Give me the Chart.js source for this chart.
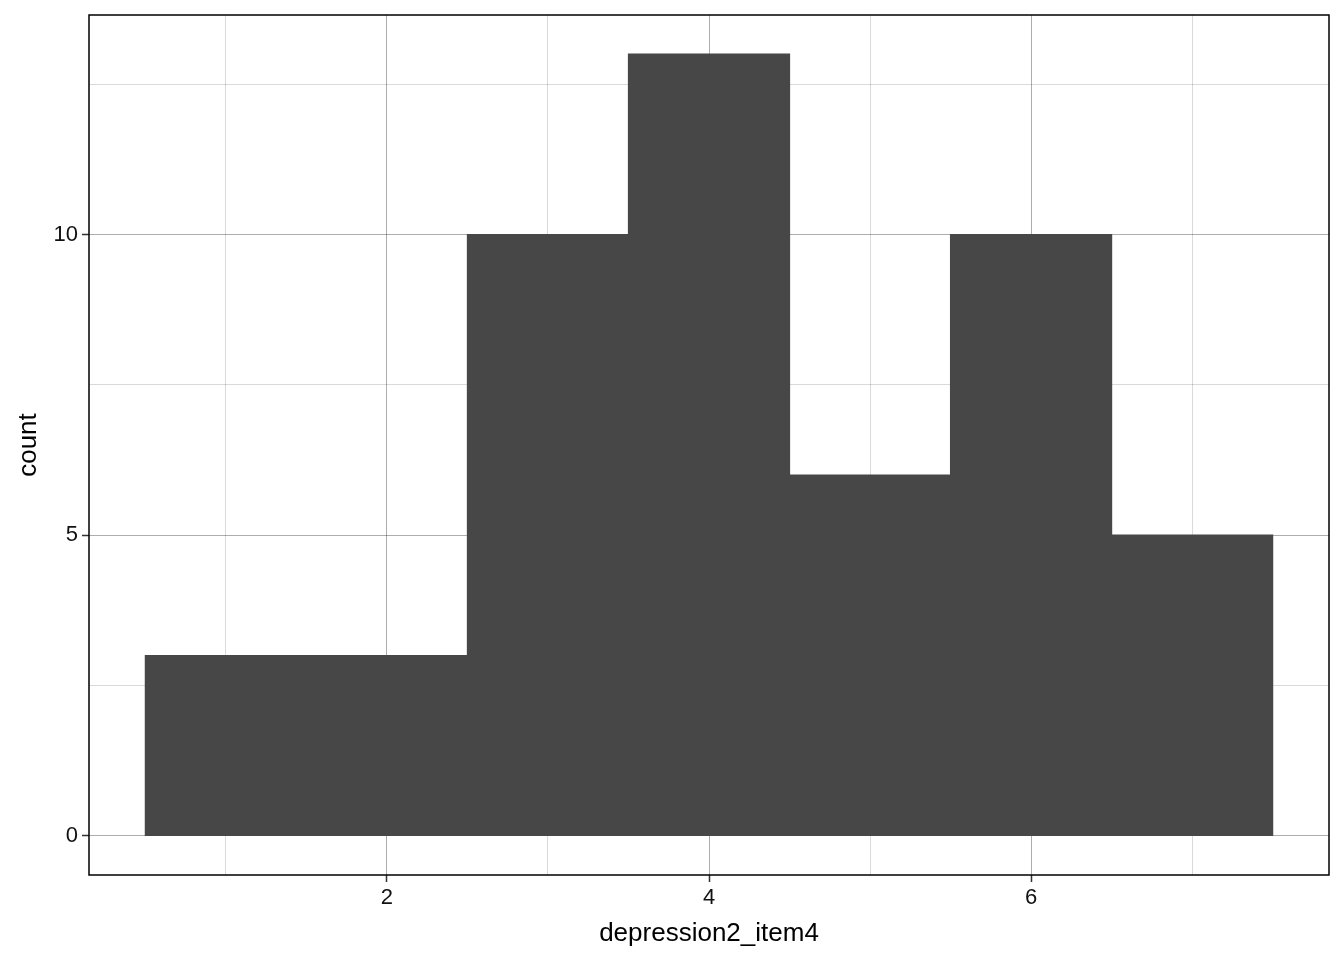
<!DOCTYPE html>
<html>
<head>
<meta charset="utf-8">
<script src="https://cdn.jsdelivr.net/npm/chart.js@4/dist/chart.umd.min.js"></script>
<style>
  html, body { margin: 0; padding: 0; background: #fff; }
  #wrap { width: 1344px; height: 960px; }
</style>
</head>
<body>
<div id="wrap"><canvas id="histChart"></canvas></div>
<script>
// bin centres (binwidth 1) and counts
var binCentres = [1, 2, 3, 4, 5, 6, 7];
var binCounts = [3, 3, 10, 13, 6, 10, 5];
var xTicks = [1, 2, 3, 4, 5, 6, 7];
var xLabelled = [2, 4, 6];
var yTicks = [0, 2.5, 5, 7.5, 10, 12.5];
var yLabelled = [0, 5, 10];

var FONT = "'Liberation Sans', Arial, sans-serif";

// panel border all round
var panelBorder = {
  id: 'panelBorder',
  afterDraw: function (chart) {
    var a = chart.chartArea, ctx = chart.ctx;
    ctx.save();
    ctx.strokeStyle = '#000';
    ctx.lineWidth = 1.5;
    ctx.strokeRect(a.left, a.top, a.right - a.left, a.bottom - a.top);
    ctx.restore();
  }
};

function gridCol(labelled) {
  return function (c) {
    if (!c.tick) return 'rgba(0,0,0,0)';
    return labelled.indexOf(c.tick.value) >= 0 ? 'rgba(0,0,0,0.32)' : 'rgba(0,0,0,0.15)';
  };
}
function tickCol(labelled) {
  return function (c) {
    if (!c.tick) return 'rgba(0,0,0,0)';
    return labelled.indexOf(c.tick.value) >= 0 ? '#333' : 'rgba(0,0,0,0)';
  };
}

new Chart("histChart", {
  type: "bar",
  data: {
    datasets: [{
      data: binCentres.map(function (x, i) { return { x: x, y: binCounts[i] }; }),
      backgroundColor: "#474747",
      borderWidth: 0,
      inflateAmount: 0.6,
      barPercentage: 1,
      categoryPercentage: 1
    }]
  },
  plugins: [panelBorder],
  options: {
    responsive: true,
    maintainAspectRatio: false,
    animation: false,
    layout: { padding: { left: 0, top: 15, right: 15, bottom: 0 } },
    plugins: {
      legend: { display: false },
      tooltip: { enabled: false }
    },
    scales: {
      x: {
        type: "linear",
        offset: false,
        min: 0.15,
        max: 7.85,
        afterBuildTicks: function (ax) { ax.ticks = xTicks.map(function (v) { return { value: v }; }); },
        afterFit: function (ax) { ax.height = 85; ax.paddingLeft = 0; ax.paddingRight = 0; },
        border: { display: false },
        grid: { offset: false, color: gridCol(xLabelled), tickColor: tickCol(xLabelled), lineWidth: 1, tickLength: 7, tickWidth: 1.5 },
        ticks: {
          autoSkip: false,
          maxRotation: 0,
          padding: 3,
          color: "#111",
          font: { family: FONT, size: 22 },
          callback: function (v) { return xLabelled.indexOf(v) >= 0 ? String(v) : ''; }
        },
        title: {
          display: true,
          text: "depression2_item4",
          color: "#000",
          font: { family: FONT, size: 26 },
          padding: { top: 2, bottom: 11 }
        }
      },
      y: {
        type: "linear",
        min: -0.65,
        max: 13.65,
        afterBuildTicks: function (ax) { ax.ticks = yTicks.map(function (v) { return { value: v }; }); },
        afterFit: function (ax) { ax.width = 89; ax.paddingTop = 0; ax.paddingBottom = 0; },
        border: { display: false },
        grid: { color: gridCol(yLabelled), tickColor: tickCol(yLabelled), lineWidth: 1, tickLength: 7, tickWidth: 1.5 },
        ticks: {
          autoSkip: false,
          padding: 4,
          color: "#111",
          font: { family: FONT, size: 22 },
          callback: function (v) { return yLabelled.indexOf(v) >= 0 ? String(v) : ''; }
        },
        title: {
          display: true,
          text: "count",
          color: "#000",
          font: { family: FONT, size: 26 },
          padding: { top: 13, bottom: 8 }
        }
      }
    }
  }
});
</script>
</body>
</html>
